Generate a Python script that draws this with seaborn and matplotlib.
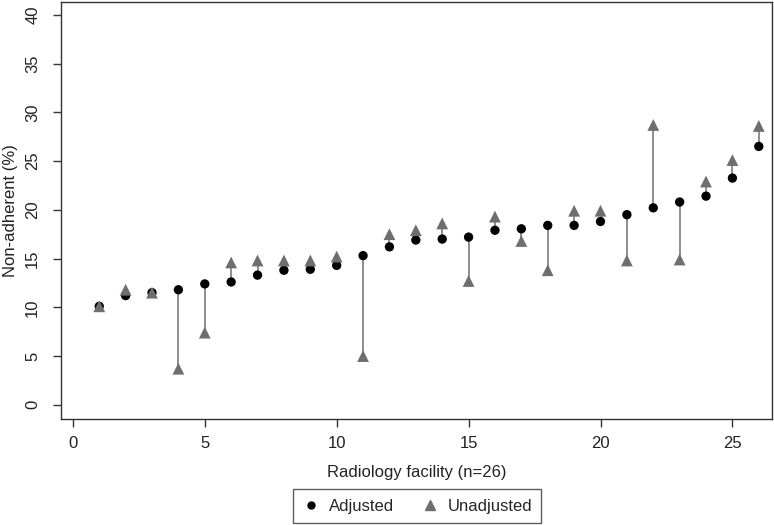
import numpy as np
import pandas as pd
import matplotlib
matplotlib.use("Agg")
import matplotlib.pyplot as plt
import seaborn as sns
from matplotlib.lines import Line2D

facility = list(range(1, 27))
adjusted = [10.1, 11.2, 11.5, 11.8, 12.4, 12.6, 13.3, 13.8, 13.9, 14.3, 15.3, 16.2, 16.9,
            17.0, 17.2, 17.9, 18.05, 18.4, 18.4, 18.8, 19.5, 20.2, 20.8, 21.4, 23.25, 26.5]
unadjusted = [10.1, 11.8, 11.5, 3.7, 7.4, 14.6, 14.8, 14.8, 14.8, 15.2, 5.0, 17.5, 17.9,
              18.6, 12.7, 19.3, 16.8, 13.8, 19.9, 19.9, 14.8, 28.7, 14.9, 22.9, 25.1, 28.6]

sns.set_theme(style="white")
plt.rcParams['font.family'] = ['Liberation Sans', 'DejaVu Sans']

df = pd.DataFrame({"facility": facility, "Adjusted": adjusted, "Unadjusted": unadjusted})

fig = plt.figure(figsize=(7.74, 5.25), dpi=100)
ax = fig.add_axes([0.0788, 0.202, 0.9186, 0.794])

# spikes between adjusted and unadjusted
ax.vlines(df["facility"], df["Adjusted"], df["Unadjusted"], color="#7a7a7a", lw=1.2, zorder=1)

sns.scatterplot(data=df, x="facility", y="Adjusted", marker="o", s=45, color="black",
                edgecolor="none", ax=ax, zorder=2, legend=False)
sns.scatterplot(data=df, x="facility", y="Unadjusted", marker="^", s=72, color="#6e6e6e",
                edgecolor="none", ax=ax, zorder=3, legend=False)

ax.set_xlim(-0.45, 26.5)
ax.set_ylim(-1.45, 41.3)
ax.set_xticks([0, 5, 10, 15, 20, 25])
ax.set_yticks(range(0, 41, 5))
for lab in ax.get_yticklabels():
    lab.set_rotation(90)
    lab.set_va("center")
ax.tick_params(axis="both", which="both", direction="out", length=6, width=1,
               color="#333333", labelsize=12, labelcolor="#222222", left=True, bottom=True)
ax.tick_params(axis="x", pad=6)
ax.tick_params(axis="y", pad=9)
for sp in ax.spines.values():
    sp.set_color("#333333")
    sp.set_linewidth(1.0)

ax.set_xlabel("Radiology facility (n=26)", fontsize=12, color="#222222")
ax.set_ylabel("Non-adherent (%)", fontsize=12, color="#222222")
ax.xaxis.set_label_coords(0.5, -0.111)
ax.yaxis.set_label_coords(-0.061, 0.5)

handles = [Line2D([], [], marker="o", ls="none", color="black", markersize=5),
           Line2D([], [], marker="^", ls="none", color="#6e6e6e", markersize=7)]
leg = fig.legend(handles, ["Adjusted", "Unadjusted"], loc="center", bbox_to_anchor=(0.539, 0.036),
                 ncol=2, frameon=True, fancybox=False, edgecolor="#333333", fontsize=12,
                 handletextpad=0.5, columnspacing=1.6, borderpad=0.55, handlelength=1.1)
leg.get_frame().set_linewidth(1.0)

fig.savefig("out.png", dpi=100)
